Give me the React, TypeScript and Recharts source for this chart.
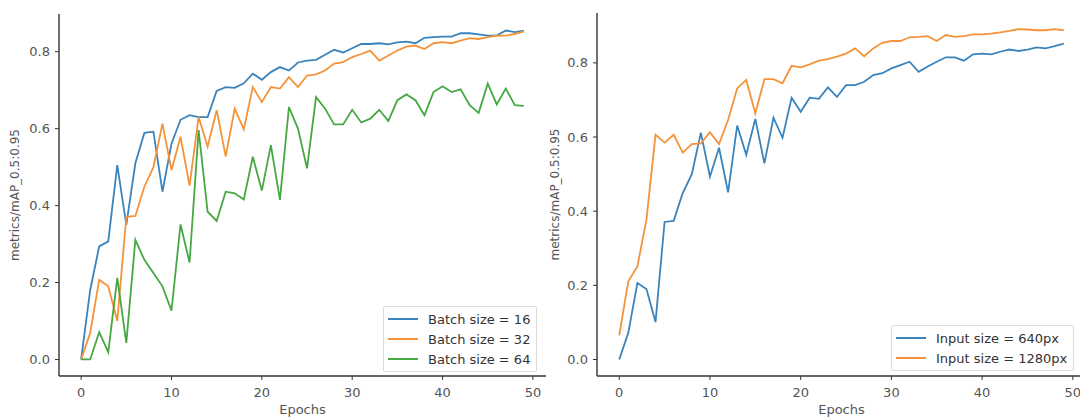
import React from "react";
import { Legend, Line, LineChart, XAxis, YAxis } from "recharts";

const epochs = [
  0, 1, 2, 3, 4, 5, 6, 7, 8, 9, 10, 11, 12, 13, 14, 15, 16, 17, 18, 19, 20, 21, 22, 23, 24,
  25, 26, 27, 28, 29, 30, 31, 32, 33, 34, 35, 36, 37, 38, 39, 40, 41, 42, 43, 44, 45, 46, 47, 48, 49
];

// left panel: batch size comparison
const batch16 = [
  0.0, 0.18, 0.294, 0.307, 0.505, 0.35, 0.51, 0.589, 0.592, 0.436, 0.561, 0.623, 0.635, 0.63, 0.63,
  0.698, 0.708, 0.706, 0.718, 0.743, 0.727, 0.747, 0.76, 0.751, 0.772, 0.777, 0.779, 0.792, 0.805,
  0.798, 0.809, 0.82, 0.82, 0.822, 0.819, 0.824, 0.826, 0.822, 0.836, 0.838, 0.839, 0.839, 0.848,
  0.848, 0.845, 0.842, 0.842, 0.855, 0.851, 0.855
];
const batch32 = [
  0.0, 0.069, 0.207, 0.19, 0.1, 0.371, 0.373, 0.449, 0.5, 0.613, 0.492, 0.579, 0.452, 0.63, 0.553,
  0.648, 0.528, 0.652, 0.598, 0.708, 0.669, 0.708, 0.704, 0.734, 0.708, 0.738, 0.741, 0.751, 0.769,
  0.773, 0.786, 0.794, 0.803, 0.777, 0.79, 0.803, 0.813, 0.816, 0.807, 0.822, 0.825, 0.822, 0.829,
  0.835, 0.833, 0.838, 0.842, 0.842, 0.846, 0.853
];
const batch64 = [
  0.0, 0.0, 0.071, 0.019, 0.212, 0.043, 0.311, 0.259, 0.225, 0.19, 0.127, 0.351, 0.252, 0.596, 0.384,
  0.36, 0.436, 0.432, 0.416, 0.527, 0.439, 0.557, 0.415, 0.656, 0.6, 0.497, 0.682, 0.652, 0.611,
  0.611, 0.649, 0.616, 0.626, 0.649, 0.62, 0.674, 0.689, 0.674, 0.635, 0.695, 0.71, 0.695, 0.702,
  0.661, 0.641, 0.717, 0.663, 0.704, 0.661, 0.659
];

// right panel: input size comparison
const input640 = [
  0.0, 0.072, 0.206, 0.19, 0.101, 0.371, 0.374, 0.449, 0.5, 0.612, 0.493, 0.571, 0.451, 0.631, 0.552,
  0.649, 0.529, 0.652, 0.598, 0.706, 0.668, 0.706, 0.703, 0.734, 0.708, 0.74, 0.74, 0.749, 0.767,
  0.772, 0.785, 0.794, 0.803, 0.776, 0.79, 0.803, 0.815, 0.815, 0.806, 0.823, 0.825, 0.823, 0.83,
  0.836, 0.832, 0.836, 0.842, 0.839, 0.845, 0.852
];
const input1280 = [
  0.065, 0.211, 0.251, 0.377, 0.606, 0.585, 0.606, 0.558, 0.581, 0.583, 0.613, 0.581, 0.646, 0.731,
  0.754, 0.664, 0.756, 0.756, 0.745, 0.792, 0.788, 0.796, 0.806, 0.81, 0.817, 0.825, 0.839, 0.818,
  0.839, 0.854, 0.859, 0.859, 0.869, 0.87, 0.872, 0.859, 0.875, 0.87, 0.872, 0.877, 0.877, 0.879,
  0.882, 0.886, 0.891, 0.89, 0.888, 0.888, 0.891, 0.888
];

const xTicks = [0, 10, 20, 30, 40, 50];
const yTicks = [0, 0.2, 0.4, 0.6, 0.8];

const BLUE = "#3a84bd";
const ORANGE = "#f49339";
const GREEN = "#46a843";
const FONT = "DejaVu Sans, sans-serif";

const leftRows = epochs.map((epoch, i) => ({
  epoch,
  b16: batch16[i],
  b32: batch32[i],
  b64: batch64[i]
}));

const rightRows = epochs.map((epoch, i) => ({
  epoch,
  p640: input640[i],
  p1280: input1280[i]
}));

interface LegendEntry {
  label: string;
  color: string;
}

function LegendBox({ entries }: { entries: LegendEntry[] }) {
  return (
    <div
      style={{
        border: "1px solid #dcdcdc",
        borderRadius: 2,
        background: "rgba(255,255,255,0.85)",
        padding: "2px 6px 2px 4px",
        fontFamily: FONT,
        fontSize: 13,
        color: "#333"
      }}
    >
      {entries.map((entry) => (
        <div key={entry.label} style={{ display: "flex", alignItems: "center", height: 20 }}>
          <span style={{ display: "inline-block", width: 30, height: 2, background: entry.color, marginRight: 10 }} />
          <span style={{ whiteSpace: "nowrap" }}>{entry.label}</span>
        </div>
      ))}
    </div>
  );
}

type Box = { x: number; y: number; width: number; height: number };

function YTitle(props: { viewBox?: Box }) {
  const vb = props.viewBox ?? { x: 0, y: 0, width: 0, height: 0 };
  const cx = vb.x + 15;
  const cy = vb.y + vb.height / 2;
  return (
    <text
      x={cx}
      y={cy}
      transform={`rotate(-90 ${cx} ${cy})`}
      textAnchor="middle"
      dominantBaseline="central"
      fontSize={12}
      fontFamily={FONT}
      fill="#555"
    >
      metrics/mAP_0.5:0.95
    </text>
  );
}

function XTitle(props: { viewBox?: Box }) {
  const vb = props.viewBox ?? { x: 0, y: 0, width: 0, height: 0 };
  return (
    <text x={vb.x + vb.width / 2} y={vb.y + 38} textAnchor="middle" fontSize={13} fontFamily={FONT} fill="#555">
      Epochs
    </text>
  );
}

const tickStyle = { fill: "#555", fontSize: 13, fontFamily: FONT };
const axisLine = { stroke: "#333", strokeWidth: 1.4 };
const tickLine = { stroke: "#333", strokeWidth: 1 };

export default function App() {
  return (
    <div style={{ position: "fixed", left: 0, top: 0, width: 1080, height: 419, overflow: "hidden", background: "#fff" }}>
      <div style={{ position: "absolute", left: 0, top: 0 }}>
        <LineChart width={560} height={419} data={leftRows} margin={{ top: 14, right: 14, left: 0, bottom: 0 }}>
          <XAxis
            dataKey="epoch"
            type="number"
            domain={[-2.45, 51.45]}
            ticks={xTicks}
            allowDataOverflow
            height={43}
            tick={tickStyle}
            tickSize={4}
            tickMargin={8}
            axisLine={axisLine}
            tickLine={tickLine}
            label={<XTitle />}
          />
          <YAxis
            type="number"
            domain={[-0.043, 0.898]}
            ticks={yTicks}
            allowDataOverflow
            width={59}
            tick={tickStyle}
            tickSize={4}
            tickMargin={5}
            tickFormatter={(v: number) => v.toFixed(1)}
            axisLine={axisLine}
            tickLine={tickLine}
            label={<YTitle />}
          />
          <Legend
            layout="horizontal"
            verticalAlign="middle"
            align="center"
            wrapperStyle={{ left: 383, top: 306, width: "auto" }}
            content={() => (
              <LegendBox
                entries={[
                  { label: "Batch size = 16", color: BLUE },
                  { label: "Batch size = 32", color: ORANGE },
                  { label: "Batch size = 64", color: GREEN }
                ]}
              />
            )}
          />
          <Line type="linear" dataKey="b16" stroke={BLUE} strokeWidth={1.8} dot={false} isAnimationActive={false} />
          <Line type="linear" dataKey="b32" stroke={ORANGE} strokeWidth={1.8} dot={false} isAnimationActive={false} />
          <Line type="linear" dataKey="b64" stroke={GREEN} strokeWidth={1.8} dot={false} isAnimationActive={false} />
        </LineChart>
      </div>

      <div style={{ position: "absolute", left: 540, top: 0 }}>
        <LineChart width={560} height={419} data={rightRows} margin={{ top: 13, right: 14, left: 0, bottom: 0 }}>
          <XAxis
            dataKey="epoch"
            type="number"
            domain={[-2.45, 51.45]}
            ticks={xTicks}
            allowDataOverflow
            height={43}
            tick={tickStyle}
            tickSize={4}
            tickMargin={8}
            axisLine={axisLine}
            tickLine={tickLine}
            label={<XTitle />}
          />
          <YAxis
            type="number"
            domain={[-0.0445, 0.9345]}
            ticks={yTicks}
            allowDataOverflow
            width={57}
            tick={tickStyle}
            tickSize={4}
            tickMargin={5}
            tickFormatter={(v: number) => v.toFixed(1)}
            axisLine={axisLine}
            tickLine={tickLine}
            label={<YTitle />}
          />
          <Legend
            layout="horizontal"
            verticalAlign="middle"
            align="center"
            wrapperStyle={{ left: 351, top: 325, width: "auto" }}
            content={() => (
              <LegendBox
                entries={[
                  { label: "Input size = 640px", color: BLUE },
                  { label: "Input size = 1280px", color: ORANGE }
                ]}
              />
            )}
          />
          <Line type="linear" dataKey="p640" stroke={BLUE} strokeWidth={1.8} dot={false} isAnimationActive={false} />
          <Line type="linear" dataKey="p1280" stroke={ORANGE} strokeWidth={1.8} dot={false} isAnimationActive={false} />
        </LineChart>
      </div>
    </div>
  );
}
